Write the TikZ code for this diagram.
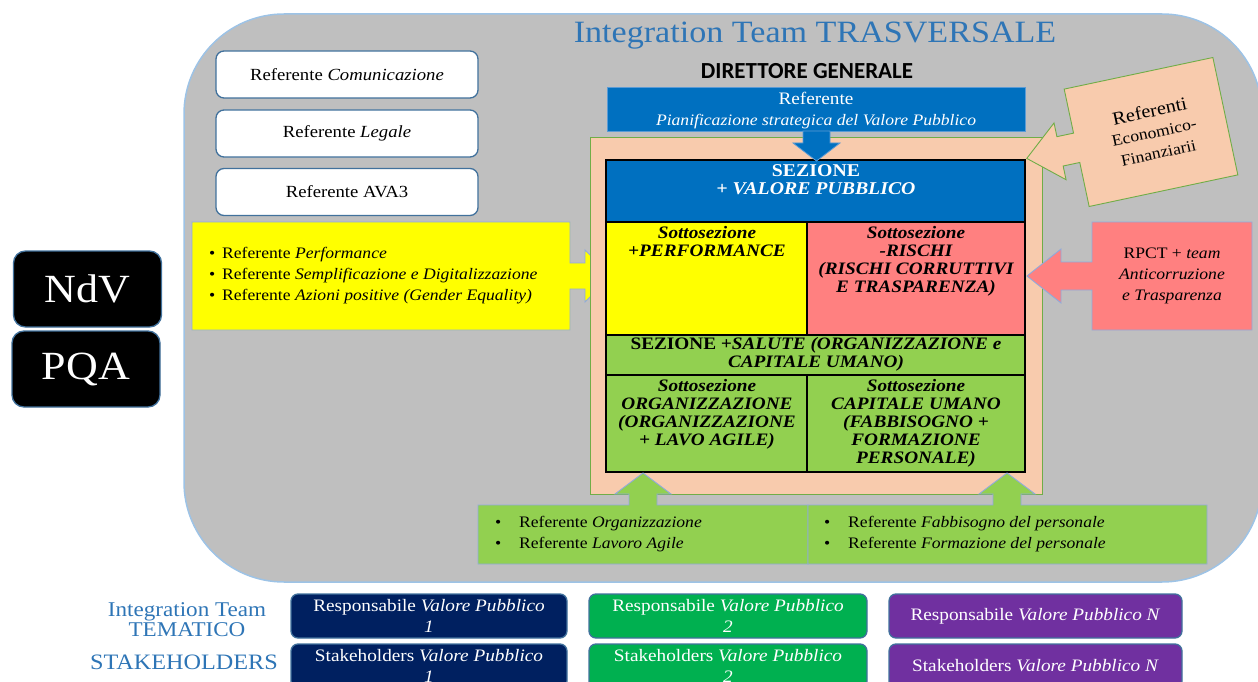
\documentclass[tikz,border=0pt]{standalone}
\usepackage{fontspec}
\setmainfont{Liberation Serif}[FakeStretch=1.1]
\newfontfamily\dirfont{Carlito}
\definecolor{bggrey}{HTML}{BFBFBF}
\definecolor{bgline}{HTML}{9DC3E6}
\definecolor{boxline}{HTML}{41719C}
\definecolor{lightline}{HTML}{8FAADC}
\definecolor{titleblue}{HTML}{2E75B6}
\definecolor{peach}{HTML}{F8CBAD}
\definecolor{peachline}{HTML}{70AD47}
\definecolor{secblue}{HTML}{0070C0}
\definecolor{secblueline}{HTML}{5B9BD5}
\definecolor{yel}{HTML}{FFFF00}
\definecolor{redc}{HTML}{FF8080}
\definecolor{grn}{HTML}{92D050}
\definecolor{navy}{HTML}{002060}
\definecolor{grntwo}{HTML}{00B050}
\definecolor{purp}{HTML}{7030A0}
\begin{document}
\begin{tikzpicture}[x=1pt,y=1pt,
  refbox/.style={draw=boxline,line width=1.3pt,fill=white,rounded corners=8pt,minimum width=262pt,minimum height=47pt,inner sep=0pt,font=\fontsize{17}{20}\selectfont},
  darkbox/.style={draw=boxline,line width=1.3pt,fill=black,text=white,rounded corners=12pt,minimum width=148pt,minimum height=76pt,inner sep=0pt,font=\fontsize{40}{44}\selectfont},
  vpbox/.style={draw=boxline,line width=1.3pt,text=white,rounded corners=7pt,minimum height=44pt,inner sep=0pt,align=center,font=\fontsize{17.5}{21}\selectfont},
  cell/.style={draw=black,line width=1.8pt},
  celltext/.style={align=center,inner sep=0pt,anchor=north,font=\fontsize{17.5}{18}\selectfont\bfseries\itshape},
  callout/.style={draw=lightline,line width=0.9pt},
  bodytext/.style={inner sep=0pt,font=\fontsize{16}{21}\selectfont},
  sidelabel/.style={inner sep=0pt,text=titleblue,align=center,font=\fontsize{21}{17}\selectfont}
]
\useasboundingbox (0,0) rectangle (1258,-682);
% big grey area
\draw[fill=bggrey,draw=bgline,line width=1.5pt,rounded corners=100pt] (184,-14) rectangle (1262,-582);
\node[text=titleblue,font=\fontsize{31}{33}\selectfont,inner sep=0pt] (title) at (815,-36) {Integration Team TRASVERSALE};
\node[font=\dirfont\bfseries\fontsize{23}{25}\selectfont,inner sep=0pt] (dg) at (807,-71) {DIRETTORE GENERALE};
% left referent boxes
\node[refbox] (rcom) at (347,-74.5) {Referente \textit{Comunicazione}};
\node[refbox] (rleg) at (347,-133.5) {Referente \textit{Legale}};
\node[refbox] (rava) at (347,-192) {Referente AVA3};
% yellow callout
\draw[callout,fill=yel] (192,-222) -- (570,-222) -- (570,-263) -- (585,-263) -- (585,-250) -- (611,-276) -- (585,-302) -- (585,-289) -- (570,-289) -- (570,-330) -- (192,-330) -- cycle;
\node[bodytext,anchor=west,align=left] (yeltxt) at (209,-276) {\makebox[13pt][l]{\textbullet}Referente \textit{Performance}\\ \makebox[13pt][l]{\textbullet}Referente \textit{Semplificazione e Digitalizzazione}\\ \makebox[13pt][l]{\textbullet}Referente \textit{Azioni positive (Gender Equality)}};
% NdV PQA
\node[darkbox] (ndv) at (87.5,-289) {NdV};
\node[darkbox] (pqa) at (86,-369) {PQA};
% peach frame
\draw[fill=peach,draw=peachline,line width=0.8pt] (590,-137) rectangle (1042,-494);
% referente pianificazione
\draw[fill=secblue,draw=secblueline,line width=1pt] (607,-88) rectangle (1025,-132);
\node[text=white,align=center,inner sep=0pt,font=\fontsize{16}{21}\selectfont] (refpian) at (816,-110.5) {{\fontsize{17.5}{21}\selectfont Referente}\\ \textit{Pianificazione strategica del Valore Pubblico}};
% grid
\draw[cell,fill=secblue] (606,-160) rectangle (1025,-222);
\draw[cell,fill=yel] (606,-222) rectangle (807,-335);
\draw[cell,fill=redc] (807,-222) rectangle (1025,-335);
\draw[cell,fill=grn] (606,-335) rectangle (1025,-375);
\draw[cell,fill=grn] (606,-375) rectangle (807,-472);
\draw[cell,fill=grn] (807,-375) rectangle (1025,-472);
% blue down arrow
\draw[fill=secblue,draw=secblueline,line width=0.8pt] (803,-131) -- (830,-131) -- (830,-143) -- (840,-143) -- (816.5,-161) -- (793,-143) -- (803,-143) -- cycle;
\node[celltext,text=white,font=\fontsize{18}{18}\selectfont\bfseries] (sez) at (816,-164) {SEZIONE\\ \textit{+ VALORE PUBBLICO}};
\node[celltext] (perf) at (707,-226) {Sottosezione\\ +PERFORMANCE};
\node[celltext] (risch) at (916,-226) {Sottosezione\\ -RISCHI\\ (RISCHI CORRUTTIVI\\ E TRASPARENZA)};
\node[celltext] (salute) at (816,-337) {\textup{SEZIONE} +SALUTE (ORGANIZZAZIONE e\\ CAPITALE UMANO)};
\node[celltext] (org) at (707,-379) {Sottosezione\\ ORGANIZZAZIONE\\ (ORGANIZZAZIONE\\ + LAVO AGILE)};
\node[celltext] (capum) at (916,-379) {Sottosezione\\ CAPITALE UMANO\\ (FABBISOGNO +\\ FORMAZIONE\\ PERSONALE)};
% referenti economico-finanziari callout
\begin{scope}[shift={(1151,-132)},rotate=12]
\draw[fill=peach,draw=peachline,line width=0.9pt] (-76,60) -- (76,60) -- (76,-60) -- (-76,-60) -- (-76,-15) -- (-93,-15) -- (-93,-29) -- (-127,0) -- (-93,29) -- (-93,15) -- (-76,15) -- cycle;
\node[rotate=12,align=center,inner sep=0pt,font=\fontsize{16}{21}\selectfont] (ecofin) at (3,0) {{\fontsize{18.5}{21}\selectfont Referenti}\\ Economico-\\ Finanziarii};
\end{scope}
% RPCT callout
\draw[callout,fill=redc] (1092,-222) -- (1252,-222) -- (1252,-330) -- (1092,-330) -- (1092,-290) -- (1061,-290) -- (1061,-303) -- (1027,-276) -- (1061,-249) -- (1061,-262) -- (1092,-262) -- cycle;
\node[bodytext,align=center] (rpct) at (1172,-276) {RPCT + \textit{team}\\ \textit{Anticorruzione}\\ \textit{e Trasparenza}};
% bottom green boxes with up arrows
\draw[callout,fill=grn] (478,-505) -- (629,-505) -- (629,-494) -- (615,-494) -- (643,-473) -- (671,-494) -- (657,-494) -- (657,-505) -- (808,-505) -- (808,-564) -- (478,-564) -- cycle;
\draw[callout,fill=grn] (808,-505) -- (993,-505) -- (993,-494) -- (979,-494) -- (1007,-473) -- (1035,-494) -- (1021,-494) -- (1021,-505) -- (1207,-505) -- (1207,-564) -- (808,-564) -- cycle;
\node[bodytext,anchor=west,align=left] (orgtxt) at (495,-534) {\makebox[24pt][l]{\textbullet}Referente \textit{Organizzazione}\\ \makebox[24pt][l]{\textbullet}Referente \textit{Lavoro Agile}};
\node[bodytext,anchor=west,align=left] (fabtxt) at (824,-534) {\makebox[24pt][l]{\textbullet}Referente \textit{Fabbisogno del personale}\\ \makebox[24pt][l]{\textbullet}Referente \textit{Formazione del personale}};
% bottom rows
\node[sidelabel] (itlabel) at (187,-619.5) {Integration Team\\ TEMATICO};
\node[sidelabel,font=\fontsize{22}{17}\selectfont] (stlabel) at (184,-662) {STAKEHOLDERS};
\node[vpbox,fill=navy,minimum width=276pt] (r1) at (429,-616) {Responsabile \textit{Valore Pubblico}\\ \textit{1}};
\node[vpbox,fill=grntwo,minimum width=278pt] (r2) at (728,-616) {Responsabile \textit{Valore Pubblico}\\ \textit{2}};
\node[vpbox,fill=purp,minimum width=293pt] (rN) at (1035.5,-616) {Responsabile \textit{Valore Pubblico N}};
\node[vpbox,fill=navy,minimum width=276pt] (s1) at (429,-666) {Stakeholders \textit{Valore Pubblico}\\ \textit{1}};
\node[vpbox,fill=grntwo,minimum width=278pt] (s2) at (728,-666) {Stakeholders \textit{Valore Pubblico}\\ \textit{2}};
\node[vpbox,fill=purp,minimum width=293pt] (sN) at (1035.5,-666) {Stakeholders \textit{Valore Pubblico N}};
\end{tikzpicture}
\end{document}
